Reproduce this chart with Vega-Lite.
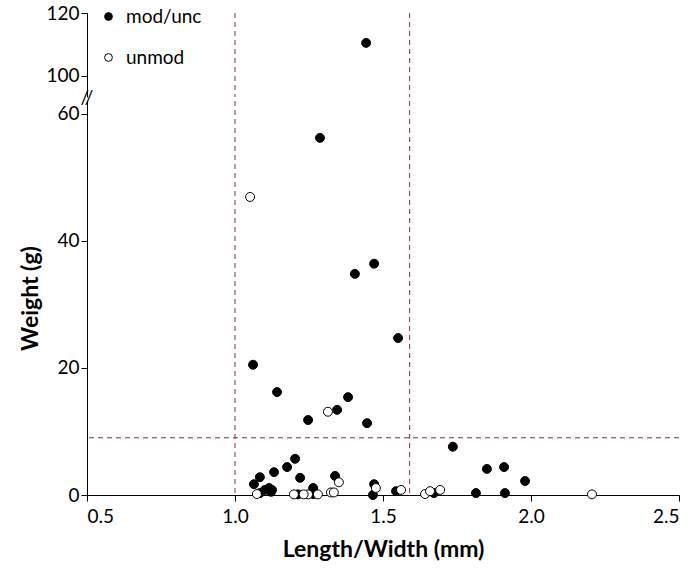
{
  "$schema": "https://vega.github.io/schema/vega-lite/v6.json",
  "background": "white",
  "padding": {"left": 19, "top": 4, "right": 10, "bottom": 5},
  "bounds": "flush",
  "config": {
    "font": "Lato",
    "view": {"stroke": null},
    "axis": {"labelFont": "Lato", "labelFontSize": 19, "labelColor": "black", "domainColor": "black", "tickColor": "black", "grid": false, "tickSize": 6, "titleFont": "Lato", "titleFontSize": 23, "titleFontWeight": "bold", "titleColor": "black"},
    "legend": {"labelFont": "Lato", "labelFontSize": 19, "labelColor": "black"}
  },
  "datasets": {
    "pts": [
      {"lw": 1.443, "w": 110.5, "type": "mod/unc"},
      {"lw": 1.287, "w": 56.2, "type": "mod/unc"},
      {"lw": 1.405, "w": 34.8, "type": "mod/unc"},
      {"lw": 1.470, "w": 36.4, "type": "mod/unc"},
      {"lw": 1.551, "w": 24.7, "type": "mod/unc"},
      {"lw": 1.061, "w": 20.5, "type": "mod/unc"},
      {"lw": 1.142, "w": 16.2, "type": "mod/unc"},
      {"lw": 1.382, "w": 15.4, "type": "mod/unc"},
      {"lw": 1.345, "w": 13.4, "type": "mod/unc"},
      {"lw": 1.247, "w": 11.8, "type": "mod/unc"},
      {"lw": 1.446, "w": 11.3, "type": "mod/unc"},
      {"lw": 1.736, "w": 7.6, "type": "mod/unc"},
      {"lw": 1.851, "w": 4.1, "type": "mod/unc"},
      {"lw": 1.909, "w": 4.4, "type": "mod/unc"},
      {"lw": 1.980, "w": 2.2, "type": "mod/unc"},
      {"lw": 1.814, "w": 0.3, "type": "mod/unc"},
      {"lw": 1.912, "w": 0.3, "type": "mod/unc"},
      {"lw": 1.672, "w": 0.3, "type": "mod/unc"},
      {"lw": 1.338, "w": 3.0, "type": "mod/unc"},
      {"lw": 1.470, "w": 1.7, "type": "mod/unc"},
      {"lw": 1.466, "w": 0.0, "type": "mod/unc"},
      {"lw": 1.544, "w": 0.6, "type": "mod/unc"},
      {"lw": 1.064, "w": 1.7, "type": "mod/unc"},
      {"lw": 1.084, "w": 2.8, "type": "mod/unc"},
      {"lw": 1.132, "w": 3.6, "type": "mod/unc"},
      {"lw": 1.176, "w": 4.4, "type": "mod/unc"},
      {"lw": 1.203, "w": 5.7, "type": "mod/unc"},
      {"lw": 1.220, "w": 2.7, "type": "mod/unc"},
      {"lw": 1.115, "w": 1.1, "type": "mod/unc"},
      {"lw": 1.101, "w": 0.8, "type": "mod/unc"},
      {"lw": 1.125, "w": 0.8, "type": "mod/unc"},
      {"lw": 1.122, "w": 0.5, "type": "mod/unc"},
      {"lw": 1.084, "w": 0.3, "type": "mod/unc"},
      {"lw": 1.213, "w": 0.1, "type": "mod/unc"},
      {"lw": 1.264, "w": 1.1, "type": "mod/unc"},
      {"lw": 1.264, "w": 0.15, "type": "mod/unc"},
      {"lw": 1.051, "w": 46.9, "type": "unmod"},
      {"lw": 1.314, "w": 13.1, "type": "unmod"},
      {"lw": 1.642, "w": 0.15, "type": "unmod"},
      {"lw": 1.659, "w": 0.6, "type": "unmod"},
      {"lw": 1.693, "w": 0.8, "type": "unmod"},
      {"lw": 2.206, "w": 0.1, "type": "unmod"},
      {"lw": 1.351, "w": 2.0, "type": "unmod"},
      {"lw": 1.476, "w": 1.1, "type": "unmod"},
      {"lw": 1.561, "w": 0.8, "type": "unmod"},
      {"lw": 1.324, "w": 0.4, "type": "unmod"},
      {"lw": 1.334, "w": 0.4, "type": "unmod"},
      {"lw": 1.074, "w": 0.15, "type": "unmod"},
      {"lw": 1.199, "w": 0.1, "type": "unmod"},
      {"lw": 1.247, "w": 0.1, "type": "unmod"},
      {"lw": 1.280, "w": 0.1, "type": "unmod"},
      {"lw": 1.232, "w": 0.1, "type": "unmod"}
    ],
    "vlines": [{"lw": 1.0}, {"lw": 1.59}],
    "hline": [{"w": 9.0}]
  },
  "resolve": {"legend": {"fill": "independent"}},
  "spacing": 4,
  "vconcat": [
    {
      "width": 592,
      "height": 84,
      "layer": [
        {
          "data": {"name": "vlines"},
          "mark": {"type": "rule", "color": "#7a3636", "strokeDash": [5, 4], "strokeWidth": 1},
          "encoding": {"x": {"field": "lw", "type": "quantitative", "scale": {"domain": [0.5, 2.5], "nice": false, "zero": false}, "axis": null}}
        },
        {
          "data": {"name": "pts"},
          "transform": [{"filter": "datum.w >= 90"}],
          "mark": {"type": "point", "shape": "circle", "filled": true, "stroke": "black", "strokeWidth": 1, "size": 80, "opacity": 1},
          "encoding": {
            "x": {"field": "lw", "type": "quantitative", "scale": {"domain": [0.5, 2.5], "nice": false, "zero": false}, "axis": null},
            "y": {"field": "w", "type": "quantitative", "scale": {"domain": [93.3, 120], "nice": false, "zero": false}, "axis": {"values": [100, 120], "title": null, "tickSize": 6}},
            "fill": {"field": "type", "type": "nominal", "scale": {"domain": ["mod/unc", "unmod"], "range": ["black", "white"]},
              "legend": {"title": null, "orient": "none", "legendX": 12, "legendY": -6, "symbolType": "circle", "symbolSize": 60, "symbolStrokeColor": "black", "symbolStrokeWidth": 1, "rowPadding": 21, "labelOffset": 8, "padding": 0}}
          }
        },
        {
          "data": {"values": [{"lw": 0.5, "w": 93.3}]},
          "mark": {"type": "text", "text": "//", "fontSize": 19, "fontWeight": "normal", "baseline": "middle", "align": "center", "clip": false, "dy": 1},
          "encoding": {
            "x": {"field": "lw", "type": "quantitative", "scale": {"domain": [0.5, 2.5], "nice": false, "zero": false}, "axis": null},
            "y": {"field": "w", "type": "quantitative", "scale": {"domain": [93.3, 120], "nice": false, "zero": false}}
          }
        }
      ]
    },
    {
      "width": 592,
      "height": 394,
      "layer": [
        {
          "data": {"name": "vlines"},
          "mark": {"type": "rule", "color": "#7a3636", "strokeDash": [5, 4], "strokeWidth": 1},
          "encoding": {"x": {"field": "lw", "type": "quantitative", "scale": {"domain": [0.5, 2.5], "nice": false, "zero": false}}}
        },
        {
          "data": {"name": "hline"},
          "mark": {"type": "rule", "color": "#7a3636", "strokeDash": [5, 4], "strokeWidth": 1},
          "encoding": {"y": {"field": "w", "type": "quantitative", "scale": {"domain": [0, 62], "nice": false}}}
        },
        {
          "data": {"name": "pts"},
          "transform": [{"filter": "datum.w <= 62"}],
          "mark": {"type": "point", "shape": "circle", "filled": true, "stroke": "black", "strokeWidth": 1, "size": 80, "opacity": 1},
          "encoding": {
            "x": {"field": "lw", "type": "quantitative", "scale": {"domain": [0.5, 2.5], "nice": false, "zero": false}, "axis": {"values": [0.5, 1.0, 1.5, 2.0, 2.5], "format": ".1f", "title": "Length/Width (mm)", "titlePadding": 12, "labelPadding": 6}},
            "y": {"field": "w", "type": "quantitative", "scale": {"domain": [0, 62], "nice": false}, "axis": {"values": [0, 20, 40, 60], "title": "Weight (g)", "titlePadding": 14}},
            "fill": {"field": "type", "type": "nominal", "scale": {"domain": ["mod/unc", "unmod"], "range": ["black", "white"]}, "legend": null}
          }
        }
      ]
    }
  ]
}
